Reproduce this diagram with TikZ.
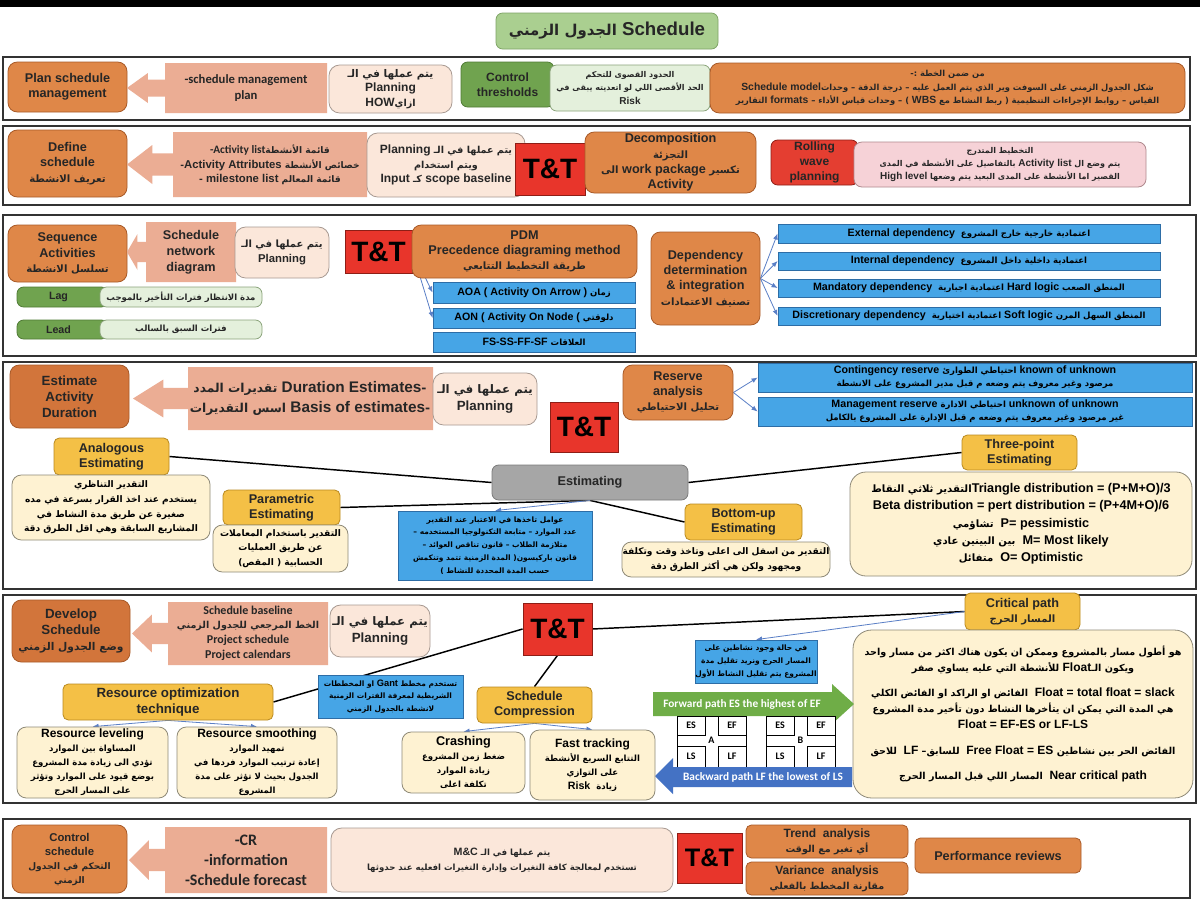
\documentclass[tikz,border=0pt]{standalone}
\usepackage{fontspec}
\setmainfont{Liberation Sans}
\newfontfamily\arfont[Script=Arabic,Scale=0.8]{DejaVu Sans}
\newfontfamily\arbig[Script=Arabic,Scale=0.88]{DejaVu Sans}
\newfontfamily\calfont{Carlito}
\TeXXeTstate=1
\usetikzlibrary{arrows.meta,positioning,backgrounds,calc}
\definecolor{ink}{HTML}{262626}
\definecolor{schorange}{HTML}{DF8748}
\definecolor{schorangeD}{HTML}{D2753B}
\definecolor{orangeline}{HTML}{A85A28}
\definecolor{salmon}{HTML}{EBAD94}
\definecolor{palesalmon}{HTML}{FBE7DA}
\definecolor{planline}{HTML}{A89A92}
\definecolor{ttred}{HTML}{E8352B}
\definecolor{ttline}{HTML}{8E1E16}
\definecolor{wavered}{HTML}{E43E31}
\definecolor{skyblue}{HTML}{46A5E6}
\definecolor{skyline}{HTML}{2D6DA6}
\definecolor{goldfill}{HTML}{F4C046}
\definecolor{goldline}{HTML}{B98A20}
\definecolor{cream}{HTML}{FEF2D2}
\definecolor{creamline}{HTML}{8F8A78}
\definecolor{leafgreen}{HTML}{70A34F}
\definecolor{leafline}{HTML}{4F7A35}
\definecolor{mintgreen}{HTML}{E4F0DC}
\definecolor{mintline}{HTML}{8AA37A}
\definecolor{blush}{HTML}{F6D2D7}
\definecolor{pinkline}{HTML}{B08A8F}
\definecolor{titlegreen}{HTML}{AACF90}
\definecolor{titleline}{HTML}{7FA466}
\definecolor{stone}{HTML}{A6A6A6}
\definecolor{stoneline}{HTML}{7A7A7A}
\definecolor{arrowblue}{HTML}{5A7FC6}
\definecolor{fwdgreen}{HTML}{6FAD47}
\definecolor{bwdblue}{HTML}{4472C4}
\newcommand\artxt[1]{{\arfont\beginR#1\endR}}
\newcommand\artxtb[1]{{\arbig\beginR#1\endR}}
\newcommand\entxt[1]{\beginL{\rmfamily#1}\endL}
% tip x, body left, body right, top, bottom
\newcommand\salmonarrow[5]{%
  \fill[salmon] ({#1},{(#4+#5)/2}) -- ({#1+0.55*(#2-#1)},{(#4+#5)/2-0.3*(#5-#4)})
    -- ({#1+0.55*(#2-#1)},{(#4+#5)/2-0.17*(#5-#4)}) -- ({#2},{(#4+#5)/2-0.17*(#5-#4)})
    -- (#2,#4) -- (#3,#4) -- (#3,#5) -- (#2,#5)
    -- ({#2},{(#4+#5)/2+0.17*(#5-#4)}) -- ({#1+0.55*(#2-#1)},{(#4+#5)/2+0.17*(#5-#4)})
    -- ({#1+0.55*(#2-#1)},{(#4+#5)/2+0.3*(#5-#4)}) -- cycle;}
\tikzset{
  area/.style args={#1/#2/#3/#4}{minimum width={(#3-#1)*0.75pt}, minimum height={(#4-#2)*0.75pt}, at={({(#1+#3)/2},{(#2+#4)/2})}},
  spot/.style={inner sep=0pt, align=center, line width=0.6pt, text=ink},
  framebox/.style={draw=black!80, line width=1.1pt},
  titlebox/.style={spot, rounded corners=5pt, draw=titleline, fill=titlegreen, font=\fontsize{14}{16}\selectfont\bfseries},
  orangebox/.style={spot, rounded corners=7pt, draw=orangeline, fill=schorange, font=\fontsize{9.5}{11.5}\selectfont\bfseries},
  darkorange/.style={orangebox, fill=schorangeD, font=\fontsize{10}{12}\selectfont\bfseries},
  salmontext/.style={inner sep=0pt, align=center, text=ink, font=\calfont\fontsize{9.5}{11.5}\selectfont\bfseries},
  planbox/.style={spot, rounded corners=8pt, draw=planline, fill=palesalmon, font=\fontsize{9}{11}\selectfont\bfseries},
  ttbox/.style={spot, draw=ttline, fill=ttred, text=black, font=\fontsize{21}{24}\selectfont\bfseries},
  greenbox/.style={spot, rounded corners=5pt, draw=leafline, fill=leafgreen, font=\fontsize{9}{11}\selectfont\bfseries},
  mintbox/.style={spot, rounded corners=5pt, draw=mintline, fill=mintgreen, font=\fontsize{8}{10}\selectfont\bfseries},
  redbox/.style={spot, rounded corners=5pt, draw=ttline, fill=wavered, font=\fontsize{9}{11}\selectfont\bfseries},
  pinkbox/.style={spot, rounded corners=6pt, draw=pinkline, fill=blush, font=\fontsize{8}{10}\selectfont\bfseries},
  bluebox/.style={spot, draw=skyline, fill=skyblue, text=black, font=\fontsize{8}{10}\selectfont\bfseries},
  yellowbox/.style={spot, rounded corners=4pt, draw=goldline, fill=goldfill, font=\fontsize{9.5}{11.5}\selectfont\bfseries},
  creambox/.style={spot, rounded corners=7pt, draw=creamline, fill=cream, text=black, font=\fontsize{8.5}{11}\selectfont\bfseries},
  graybox/.style={spot, rounded corners=5pt, draw=stoneline, fill=stone, font=\fontsize{9.5}{11.5}\selectfont\bfseries},
  gridtext/.style={inner sep=0pt, font=\calfont\fontsize{7.5}{9}\selectfont\bfseries},
  link/.style={line width=1.1pt, draw=black},
  bluelink/.style={-{Latex[length=1.6mm,width=1.3mm]}, line width=0.6pt, draw=arrowblue}
}
\begin{document}
\begin{tikzpicture}[x=0.75pt, y=-0.75pt]
  \useasboundingbox (0,0) rectangle (1200,904);
  \fill[black] (0,0) rectangle (1200,7);
  \node[titlebox, area=496/13/718/49] (title) {\artxt{\entxt{Schedule} الجدول الزمني}};
  \foreach \ya/\yb/\xr in {57/120/1190, 126/205/1190, 215/356/1196, 362/589/1196, 595/803/1196, 819/898/1190}
    \draw[framebox] (3,\ya) rectangle (\xr,\yb);

  % plan schedule management
  \node[orangebox, area=8/62/127/112] (planmgmt) {Plan schedule\\management};
  \salmonarrow{127}{165}{327}{63}{113}
  \node[salmontext] (smplan) at (246,88) {-schedule management\\plan};
  \node[planbox, area=329/65/452/113] (plan1) {\artxtb{يتم عملها في الـ}\\Planning\\HOW\artxt{ازاي}};
  \node[greenbox, area=461/62/554/107] (thresh) {Control\\thresholds};
  \node[mintbox, area=550/65/710/111, font=\fontsize{7.5}{10}\selectfont\bfseries] (threshnote) {\artxt{الحدود القصوى للتحكم}\\\artxt{الحد الأقصى اللي لو اتعديته يبقى في}\\Risk};
  \node[orangebox, area=710/63/1185/113, font=\fontsize{7.8}{10}\selectfont\bfseries] (model) {\artxt{من ضمن الخطة :-}\\Schedule model\artxt{شكل الجدول الزمني على السوفت وير الذي يتم العمل عليه – درجة الدقة – وحدات}\\\artxt{القياس – روابط الإجراءات التنظيمية ( ربط النشاط مع \entxt{WBS} ) – وحدات قياس الأداء – \entxt{formats} التقارير}};

  % define schedule
  \node[orangebox, area=8/130/127/197] (defsch) {Define\\schedule\\\artxt{تعريف الانشطة}};
  \salmonarrow{127}{173}{367}{132}{197}
  \node[salmontext, font=\calfont\fontsize{8.5}{11}\selectfont\bfseries] (actlist) at (270,165) {-Activity list\artxt{قائمة الأنشطة}\\\artxt{خصائص الأنشطة \entxt{Activity Attributes}-}\\\artxt{قائمة المعالم \entxt{milestone list} -}};
  \node[planbox, area=367/133/525/197] (plan2) {\artxt{يتم عملها في الـ \entxt{Planning}}\\\artxt{ويتم استخدام}\\Input \artxt{كـ} scope baseline};
  \node[ttbox, area=515/143/585/195] (tt2) {T\&T};
  \node[orangebox, area=585/132/756/193] (decomp) {Decomposition\\\artxt{التجزئة}\\\artxt{تكسير \entxt{work package} الى}\\Activity};
  \node[redbox, area=771/140/858/185] (rolling) {Rolling\\wave\\planning};
  \node[pinkbox, area=854/142/1146/187, font=\fontsize{7.5}{10}\selectfont\bfseries] (rollnote) {\artxt{التخطيط المتدرج}\\\artxt{يتم وضع ال \entxt{Activity list} بالتفاصيل على الأنشطة في المدى}\\\artxt{القصير اما الأنشطة على المدى البعيد يتم وضعها \entxt{High level}}};

  % sequence activities
  \node[orangebox, area=8/225/127/282] (seqact) {Sequence\\Activities\\\artxt{تسلسل الانشطة}};
  \salmonarrow{127}{146}{236}{222}{282}
  \node[salmontext, font=\fontsize{9.5}{12}\selectfont\bfseries] (netdiag) at (191,252) {Schedule\\network\\diagram};
  \node[planbox, area=235/227/329/278, font=\fontsize{8.5}{11}\selectfont\bfseries] (plan3) {\artxtb{يتم عملها في الـ}\\Planning};
  \node[ttbox, area=345/230/412/273] (tt3) {T\&T};
  \node[orangebox, area=412/225/637/278] (pdm) {PDM\\Precedence diagraming method\\\artxt{طريقة التخطيط التتابعي}};
  \node[bluebox, area=433/282/635/303] (aoa) {AOA ( Activity On Arrow )\ \artxt{زمان}};
  \node[bluebox, area=433/308/635/328] (aon) {AON ( Activity On Node (\ \artxt{دلوقتي}};
  \node[bluebox, area=433/332/635/352] (rel) {\artxt{العلاقات \entxt{FS-SS-FF-SF}}};
  \node[greenbox, area=17/287/108/307, font=\fontsize{8}{10}\selectfont\bfseries] (lag) {Lag\hspace{6pt}};
  \node[mintbox, area=100/287/262/307] (lagnote) {\artxt{مدة الانتظار فترات التأخير بالموجب}};
  \node[greenbox, area=17/320/108/339, font=\fontsize{8}{10}\selectfont\bfseries] (lead) {Lead\hspace{6pt}};
  \node[mintbox, area=100/320/262/339] (leadnote) {\artxt{فترات السبق بالسالب}};
  \node[orangebox, area=651/232/760/325] (dep) {Dependency\\determination\\\& integration\\\artxt{تصنيف الاعتمادات}};
  \node[bluebox, area=778/224/1160/243] (extdep) {External dependency\ \ \artxt{اعتمادية خارجية خارج المشروع}};
  \node[bluebox, area=778/252/1160/270] (intdep) {Internal dependency\ \ \artxt{اعتمادية داخلية داخل المشروع}};
  \node[bluebox, area=778/279/1160/297] (manddep) {\artxt{المنطق الصعب \entxt{Hard logic} اعتمادية اجبارية \ \entxt{Mandatory dependency}}};
  \node[bluebox, area=778/307/1160/325] (discdep) {\artxt{المنطق السهل المرن \entxt{Soft logic} اعتمادية اختيارية \ \entxt{Discretionary dependency}}};

  % estimate activity duration
  \node[darkorange, area=10/365/129/428] (estdur) {Estimate\\Activity\\Duration};
  \salmonarrow{133}{188}{433}{367}{430}
  \node[salmontext, font=\calfont\fontsize{11.5}{15}\selectfont\bfseries] (durest) at (310,398) {\artxt{-\entxt{Duration Estimates} تقديرات المدد}\\\artxt{-\entxt{Basis of estimates} اسس التقديرات}};
  \node[planbox, area=433/373/537/425, font=\fontsize{10}{13}\selectfont\bfseries] (plan4) {\artxtb{يتم عملها في الـ}\\Planning};
  \node[ttbox, area=550/402/618/452] (tt4) {T\&T};
  \node[orangebox, area=623/365/733/420] (reserve) {Reserve\\analysis\\\artxt{تحليل الاحتياطي}};
  \node[bluebox, area=758/363/1192/392] (contres) {Contingency reserve \artxt{احتياطي الطوارئ} known of unknown\\\artxt{مرصود وغير معروف يتم وضعه م قبل مدير المشروع على الانشطة}};
  \node[bluebox, area=758/397/1192/426] (mgmtres) {Management reserve \artxt{احتياطي الادارة} unknown of unknown\\\artxt{غير مرصود وغير معروف يتم وضعه م قبل الإدارة على المشروع بالكامل}};
  \node[graybox, area=492/465/688/500] (estim) {Estimating};
  \node[yellowbox, area=54/438/169/475] (analog) {Analogous\\Estimating};
  \node[creambox, area=12/475/210/540] (analognote) {\artxt{التقدير التناظري}\\\artxt{يستخدم عند اخذ القرار بسرعة في مده}\\\artxt{صغيرة عن طريق مدة النشاط في}\\\artxt{المشاريع السابقة وهي اقل الطرق دقة}};
  \node[yellowbox, area=223/490/340/525] (param) {Parametric\\Estimating};
  \node[creambox, area=213/525/348/572] (paramnote) {\artxt{التقدير باستخدام المعاملات}\\\artxt{عن طريق العمليات}\\\artxt{الحسابية ( المقص)}};
  \node[bluebox, area=398/511/592/580, font=\fontsize{7}{9.6}\selectfont\bfseries] (factors) {\artxt{عوامل تاخذها في الاعتبار عند التقدير}\\\artxt{عدد الموارد – متابعة التكنولوجيا المستخدمه –}\\\artxt{متلازمة الطلاب – قانون تناقص العوائد –}\\\artxt{قانون باركيسون( المدة الزمنية تتمد وتنكمش}\\\artxt{حسب المدة المحددة للنشاط )}};
  \node[yellowbox, area=685/504/802/540] (bottomup) {Bottom-up\\Estimating};
  \node[creambox, area=622/542/830/577] (bottomnote) {\artxt{التقدير من اسفل الى اعلى وتاخذ وقت وتكلفة}\\\artxt{ومجهود ولكن هي أكثر الطرق دقة}};
  \node[yellowbox, area=962/435/1077/470] (threept) {Three-point\\Estimating};
  \node[creambox, area=850/472/1192/576, rounded corners=12pt, font=\fontsize{9.5}{13}\selectfont\bfseries] (threenote) {\artxt{\entxt{Triangle distribution = (P+M+O)/3}التقدير ثلاثي النقاط}\\Beta distribution = pert distribution = (P+4M+O)/6\\\artxt{\entxt{P= pessimistic}\ \ تشاؤمي}\\\artxt{\entxt{M= Most likely}\ \ بين البينين عادي}\\\artxt{\entxt{O= Optimistic}\ \ متفائل}};

  % develop schedule
  \node[darkorange, area=12/600/130/662] (develop) {Develop\\Schedule\\\artxt{وضع الجدول الزمني}};
  \salmonarrow{132}{168}{328}{602}{665}
  \node[salmontext, font=\calfont\fontsize{9}{11}\selectfont\bfseries] (baseline) at (248,633) {Schedule baseline\\\artxt{الخط المرجعي للجدول الزمني}\\Project schedule\\Project calendars};
  \node[planbox, area=330/605/430/657, font=\fontsize{10}{13}\selectfont\bfseries] (plan5) {\artxtb{يتم عملها في الـ}\\Planning};
  \node[ttbox, area=523/603/592/655] (tt5) {T\&T};
  \node[yellowbox, area=965/593/1080/630] (critical) {Critical path\\\artxt{المسار الحرج}};
  \node[creambox, area=853/630/1193/798, rounded corners=14pt, font=\fontsize{9}{12}\selectfont\bfseries] (critnote) {\artxt{هو أطول مسار بالمشروع وممكن ان يكون هناك اكثر من مسار واحد}\\\artxt{ويكون الـ\entxt{Float} للأنشطة التي عليه يساوي صفر}\\[7pt]\artxt{\entxt{Float = total float = slack}\ \ الفائض او الراكد او الفائض الكلي}\\\artxt{هي المدة التي يمكن ان يتأخرها النشاط دون تأخير مدة المشروع}\\Float = EF-ES or LF-LS\\[7pt]\artxt{الفائض الحر بين نشاطين \entxt{Free Float = ES}\ \ للسابق– \entxt{LF}\ \ للاحق}\\[7pt]\artxt{\entxt{Near critical path}\ \ المسار اللي قبل المسار الحرج}};
  \node[bluebox, area=695/640/817/683, font=\fontsize{7}{9.5}\selectfont\bfseries] (cpnote) {\artxt{في حالة وجود نشاطين على}\\\artxt{المسار الحرج ونريد تقليل مدة}\\\artxt{المشروع يتم تقليل النشاط الأول}};
  \fill[fwdgreen] (653,692) -- (832,692) -- (832,684) -- (854,704) -- (832,724) -- (832,716) -- (653,716) -- cycle;
  \node[gridtext, text=white, font=\calfont\fontsize{8.5}{10}\selectfont\bfseries] (fwdpath) at (742,704) {Forward path ES the highest of EF};
  \foreach \gx/\gn in {677/A, 766/B} {
    \draw[line width=0.7pt, fill=white] (\gx,716) rectangle ++(69,52);
    \draw[line width=0.7pt] (\gx,716) rectangle ++(28,19) (\gx+41,716) rectangle ++(28,19)
      (\gx,746) rectangle ++(28,22) (\gx+41,746) rectangle ++(28,22);
    \node[gridtext] (es\gn) at (\gx+14,725.5) {ES};
    \node[gridtext] (ef\gn) at (\gx+55,725.5) {EF};
    \node[gridtext] (ls\gn) at (\gx+14,756) {LS};
    \node[gridtext] (lf\gn) at (\gx+55,756) {LF};
    \node[gridtext] (act\gn) at (\gx+34.5,740.5) {\gn};
  }
  \fill[bwdblue] (655,776) -- (673,758) -- (673,767) -- (852,767) -- (852,787) -- (673,787) -- (673,794) -- cycle;
  \node[gridtext, text=white, font=\calfont\fontsize{8.5}{10}\selectfont\bfseries] (bwdpath) at (763,777) {Backward path LF the lowest of LS};
  \node[yellowbox, area=63/684/273/720, font=\fontsize{10}{12}\selectfont\bfseries] (resopt) {Resource optimization\\technique};
  \node[bluebox, area=318/675/463/718, font=\fontsize{7}{9.5}\selectfont\bfseries] (gant) {\artxt{تستخدم مخطط \entxt{Gant} او المخططات}\\\artxt{الشريطية لمعرفة الفترات الزمنية}\\\artxt{لانشطة بالجدول الزمني}};
  \node[yellowbox, area=477/687/592/723] (compress) {Schedule\\Compression};
  \node[creambox, area=17/727/168/798, font=\fontsize{8}{10.5}\selectfont\bfseries] (level) {{\fontsize{9}{10}\selectfont Resource leveling}\\\artxt{المساواة بين الموارد}\\\artxt{تؤدي الى زيادة مدة المشروع}\\\artxt{بوضع قيود على الموارد وتؤثر}\\\artxt{على المسار الحرج}};
  \node[creambox, area=177/727/337/798, font=\fontsize{8}{10.5}\selectfont\bfseries] (smooth) {{\fontsize{9}{10}\selectfont Resource smoothing}\\\artxt{تمهيد الموارد}\\\artxt{إعادة ترتيب الموارد فردها في}\\\artxt{الجدول بحيث لا تؤثر على مدة}\\\artxt{المشروع}};
  \node[creambox, area=402/732/525/793, font=\fontsize{8}{10.5}\selectfont\bfseries] (crash) {{\fontsize{9.5}{10}\selectfont Crashing}\\\artxt{ضغط زمن المشروع}\\\artxt{زيادة الموارد}\\\artxt{تكلفة اعلى}};
  \node[creambox, area=530/730/655/800, font=\fontsize{8}{10.5}\selectfont\bfseries] (fasttrack) {{\fontsize{9}{10}\selectfont Fast tracking}\\\artxt{التتابع السريع الأنشطة}\\\artxt{على التوازي}\\\artxt{زيادة \ \entxt{Risk}}};

  % control schedule
  \node[orangebox, area=12/825/127/893, font=\fontsize{8.5}{10.5}\selectfont\bfseries] (ctrlsch) {Control\\schedule\\\artxt{التحكم في الجدول}\\\artxt{الزمني}};
  \salmonarrow{129}{165}{327}{827}{893}
  \node[salmontext, font=\calfont\fontsize{12}{15}\selectfont\bfseries] (crinfo) at (246,860) {-CR\\-information\\-Schedule forecast};
  \node[planbox, area=331/828/673/892, font=\fontsize{8}{11}\selectfont\bfseries] (mc) {\artxt{يتم عملها في الـ \entxt{M\&C}}\\\artxt{تستخدم لمعالجة كافة التغيرات وإدارة التغيرات افعليه عند حدوثها}};
  \node[ttbox, area=677/833/742/883, font=\fontsize{19}{22}\selectfont\bfseries] (tt6) {T\&T};
  \node[orangebox, area=746/825/908/858, rounded corners=4pt, font=\fontsize{9}{11}\selectfont\bfseries] (trend) {Trend\ \ analysis\\\artxt{أي تغير مع الوقت}};
  \node[orangebox, area=746/862/908/895, rounded corners=4pt, font=\fontsize{9}{11}\selectfont\bfseries] (variance) {Variance\ \ analysis\\\artxt{مقارنة المخطط بالفعلي}};
  \node[orangebox, area=915/838/1081/873, rounded corners=4pt, font=\fontsize{9.5}{11}\selectfont\bfseries] (perf) {Performance reviews};

  % connectors
  \begin{scope}[on background layer]
    \fill[white] (0,0) rectangle (1200,904);
    \draw[bluelink] (tt3.east) -- (aoa.west);
    \draw[bluelink] (tt3.east) -- (aon.west);
    \foreach \dn in {extdep, intdep, manddep, discdep}
      \draw[bluelink] (dep.east) -- (\dn.west);
    \draw[bluelink] (reserve.east) -- (contres.west);
    \draw[bluelink] (reserve.east) -- (mgmtres.west);
    \draw[link] (analog.east) -- (estim.west);
    \draw[link] (param.east) -- (estim.south);
    \draw[link] (estim.south) -- (bottomup.west);
    \draw[link] (estim.east) -- (threept.west);
    \draw[bluelink] (estim.south) -- (factors.north);
    \draw[link] (tt5.west) -- (resopt.east);
    \draw[link] (tt5.south) -- (compress.north);
    \draw[link] (tt5.east) -- (critical.west);
    \draw[bluelink] (critical.west) -- (cpnote.north);
    \draw[bluelink] (resopt.south) -- (level.north);
    \draw[bluelink] (resopt.south) -- (smooth.north);
    \draw[bluelink] (compress.south) -- (crash.north);
    \draw[bluelink] (compress.south) -- (fasttrack.north);
  \end{scope}
\end{tikzpicture}
\end{document}
